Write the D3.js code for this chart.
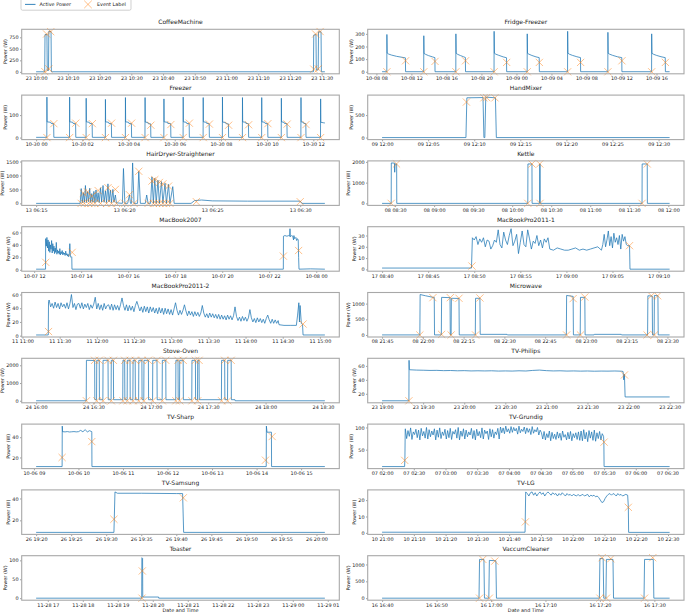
<!DOCTYPE html>
<html><head><meta charset="utf-8">
<script src="https://cdn.jsdelivr.net/npm/d3@7"></script>
<style>html,body{margin:0;padding:0;background:#fff;}svg{display:block;font-family:"DejaVu Sans",sans-serif;}</style>
</head><body><svg id="c" width="685" height="614"></svg>
<script>
// ---------- DATA (times are minutes after each panel's base time) ----------
const coffeeBase = "2014-05-23 10:00";
const coffeeTicks = ["2014-05-23 10:00","2014-05-23 10:10","2014-05-23 10:20","2014-05-23 10:30","2014-05-23 10:40","2014-05-23 10:50","2014-05-23 11:00","2014-05-23 11:10","2014-05-23 11:20","2014-05-23 11:30"];
const coffeeY = [0,250,500,750];
const coffeePower = [[0,2],[2.7,2],[2.8,810],[3.4,815],[3.5,30],[3.9,30],[4.0,880],[4.7,875],[4.8,2],[87.4,2],[87.5,800],[88.2,810],[88.3,40],[88.9,40],[89.0,870],[89.8,870],[89.9,2],[91,2]];
const coffeeEvents = [[2.75,5],[3.3,822],[4.0,65],[4.6,872],[87.5,60],[88.1,822],[88.9,65],[89.5,875]];

const fridgeBase = "2014-10-08 08:39";
const fridgeTicks = ["2014-10-08 08:00","2014-10-08 12:00","2014-10-08 16:00","2014-10-08 20:00","2014-10-09 00:00","2014-10-09 04:00","2014-10-09 08:00","2014-10-09 12:00","2014-10-09 16:00"];
const fridgeY = [0,100,200,300];
const fridgePower = [[0,0.5],
 [32.5,0.5],[33,295],[35,148],[45,140],[65,132],[100,122],[150,112],[160,110],[161,0.5],
 [285.5,0.5],[286,285],[288,145],[298,138],[318,128],[345,118],[362,112],[363,0.5],
 [505.5,0.5],[506,300],[508,146],[518,138],[538,128],[560,118],[571,113],[572,0.5],
 [767.5,0.5],[768,320],[770,147],[780,139],[800,130],[830,118],[853,111],[854,0.5],
 [994.5,0.5],[995,300],[997,146],[1007,139],[1027,129],[1055,118],[1077,112],[1078,0.5],
 [1271.5,0.5],[1272,320],[1274,147],[1284,139],[1304,130],[1335,119],[1360,112],[1361,0.5],
 [1547.5,0.5],[1548,312],[1550,146],[1560,139],[1580,130],[1612,119],[1643,112],[1644,0.5],
 [1847.5,0.5],[1848,300],[1850,146],[1860,139],[1880,130],[1912,119],[1941,112],[1942,0.5],[1971,0.5]];
const fridgeEvents = [[33,0],[161,87],[286,0],[363,82],[506,0],[572,87],[768,0],[854,74],[995,0],[1078,74],[1272,0],[1361,74],[1548,0],[1644,87],[1848,0],[1942,74]];

const freezerBase = "2014-10-30 00:00";
const freezerTicks = ["2014-10-30 00:00","2014-10-30 02:00","2014-10-30 04:00","2014-10-30 06:00","2014-10-30 08:00","2014-10-30 10:00","2014-10-30 12:00"];
const freezerY = [0,100];
const freezerPower = [[0,1],
 [27.7,1],[28,180],[28.5,70],[38,68],[39,63],[45.5,62],[46,1],
 [86.7,1],[87,180],[87.5,70],[95,68],[96,63],[102.5,62],[103,1],
 [129.7,1],[130,175],[130.5,70],[138,68],[139,63],[145.5,62],[146,1],
 [179.7,1],[180,170],[180.5,70],[188,68],[189,63],[195.5,62],[196,1],
 [231.7,1],[232,178],[232.5,70],[240,68],[241,63],[247.5,62],[248,1],
 [282.7,1],[283,178],[283.5,69],[290,67],[291,62],[297.5,61],[298,1],
 [331.7,1],[332,172],[332.5,70],[341,68],[342,63],[349.5,62],[350,1],
 [381.7,1],[382,180],[382.5,70],[390,68],[391,63],[397.5,62],[398,1],
 [433.7,1],[434,178],[434.5,70],[442,68],[443,63],[449.5,62],[450,1],
 [483.7,1],[484,180],[484.5,69],[492,67],[493,62],[499.5,61],[500,1],
 [535.7,1],[536,178],[536.5,70],[544,68],[545,63],[551.5,62],[552,1],
 [585.7,1],[586,178],[586.5,70],[594,68],[595,63],[601.5,62],[602,1],
 [636.7,1],[637,175],[637.5,70],[644,68],[645,63],[651.5,62],[652,1],
 [687.7,1],[688,178],[688.5,70],[694,68],[695,63],[700.5,62],[701,1],
 [738.7,1],[739,172],[739.5,68],[746,66],[750,65]];
const freezerEvents = [[28,0],[46,62],[87,0],[103,64],[130,0],[146,62],[180,0],[196,64],[232,0],[248,64],[283,0],[298,55],[332,0],[350,58],[382,0],[398,64],[434,0],[450,60],[484,0],[500,55],[536,0],[552,57],[586,0],[602,62],[637,0],[652,60],[688,0],[701,58],[739,0]];

const mixerBase = "2014-05-09 12:00";
const mixerTicks = ["2014-05-09 12:00","2014-05-09 12:05","2014-05-09 12:10","2014-05-09 12:15","2014-05-09 12:20","2014-05-09 12:25","2014-05-09 12:30"];
const mixerY = [0,500];
const mixerPower = [[0,0],[9.1,0],[9.2,885],[10.95,890],[11.05,0],[11.15,0],[11.25,900],[12.3,885],[12.4,0],[31.2,0]];
const mixerEvents = [[9.15,790],[11.05,885],[11.35,890],[12.25,885]];

const hairBase = "2014-05-13 06:15";
const hairTicks = ["2014-05-13 06:15","2014-05-13 06:20","2014-05-13 06:25","2014-05-13 06:30"];
const hairY = [0,500,1000,1500];
const hairPower = [[0,0],[2.5,0],
 [2.56,530],[2.62,20],[2.68,380],[2.74,40],[2.80,640],[2.86,30],[2.92,420],[2.98,60],[3.04,540],[3.10,30],[3.16,350],[3.22,50],[3.28,430],[3.34,20],[3.40,480],[3.46,60],[3.52,380],[3.58,30],[3.66,560],[3.72,50],[3.80,640],[3.86,40],[3.94,450],[4.00,30],[4.08,700],[4.14,60],[4.22,480],[4.28,30],[4.36,500],[4.42,40],[4.50,300],[4.56,20],
 [4.90,0],[4.96,1250],[5.04,0],[5.20,0],[5.30,300],[5.36,0],[5.42,0],[5.48,1450],[5.56,0],[5.76,0],[5.83,1150],[5.92,0],[6.20,0],[6.28,300],[6.36,0],[6.50,0],[6.58,950],[6.66,0],[6.74,900],[6.82,0],[6.92,830],[7.00,0],[7.12,780],[7.20,0],[7.32,720],[7.40,0],[7.52,680],[7.60,0],[7.76,600],[7.84,0],
 [8.80,0],[9.0,100],[9.4,120],[10,90],[12,80],[15.0,80],[15.1,0],[16.4,0]];
const hairEvents = [[2.56,0],[2.74,0],[2.98,0],[3.16,0],[3.34,0],[3.66,0],[4.0,0],[4.28,0],[4.56,0],[5.04,0],[5.56,0],[6.36,0],[6.66,0],[6.82,0],[7.0,0],[7.2,0],[7.4,0],[7.6,0],
 [2.68,370],[2.92,410],[3.16,260],[3.52,460],[4.08,560],[4.5,500],[5.3,310],[5.83,1150],[6.58,800],[6.74,850],[7.0,750],[7.2,700],[7.52,620],[9.1,60],[15.0,60]];

const kettleBase = "2014-05-08 08:20";
const kettleTicks = ["2014-05-08 08:30","2014-05-08 09:00","2014-05-08 09:30","2014-05-08 10:00","2014-05-08 10:30","2014-05-08 11:00","2014-05-08 11:30","2014-05-08 12:00"];
const kettleY = [0,1000,2000];
const kettlePower = [[0,0],[7,0],[7.1,1950],[9.5,1940],[9.7,1500],[10,1900],[11.2,1900],[11.3,0],
 [112,0],[112.1,1900],[115.2,1900],[115.3,0],[121,0],[121.1,1900],[121.5,1900],[121.6,0],
 [199.8,0],[199.9,1900],[203.8,1900],[203.9,0],[221,0]];
const kettleEvents = [[7,0],[11.1,1900],[112,0],[115.2,1900],[121.2,1900],[121.4,0],[199.8,0],[203.8,1900]];

const mb07Base = "2014-10-07 12:05";
const mb07Ticks = ["2014-10-07 12:00","2014-10-07 14:00","2014-10-07 16:00","2014-10-07 18:00","2014-10-07 20:00","2014-10-07 22:00","2014-10-08 00:00"];
const mb07Y = [0,20,40,60];
const mb07Noise = [50,38,52,35,48,30,45,28,40,33,47,27,42,30,38,26,35,28,44,25,32,27,30,25,34,24,29,26,31,24,28,25,27,23,30,24,26,22,25,21,24,42,22,20,21];
const mb07Power = [[0,1],[24,1],[24.3,50]].concat(sampled(24.5,1.5,mb07Noise),[[91,20],[91.5,1],[631,1],[631.3,54],[635,55],[640,54],[645,55],[647,54],[648,66],[649,53],[652,55],[655,54],[657,48],[658,55],[660,50],[663,52],[665,47],[667,50],[669,48],[670,20],[671,1],[700,1.5],[737,1]]);
const mb07Events = [[24.5,12],[92,28],[631,22],[670,31]];

const mbp1Base = "2014-05-17 08:40";
const mbp1Ticks = ["2014-05-17 08:40","2014-05-17 08:45","2014-05-17 08:50","2014-05-17 08:55","2014-05-17 09:00","2014-05-17 09:05","2014-05-17 09:10"];
const mbp1Y = [0,10,20,30];
const mbp1Noise = [28,26,29,22,27,24,28,20,26,25,18,21,26,24,35,22,19,33,26,22,30,36,21,25,31,14,24,34,22,20,35,27,18,25,23,30,21,26,19,27,24,28];
const mbp1Flat = [18,17,19,18,17,17,18,19,17,18,17,18,19,20];
const mbp1Noise2 = [17,22,31,20,26,34,21,29,19,32,24,28,22,30,18,31,25,29,22,21];
const mbp1Power = [[0,1.2],[9.7,1.2]].concat(sampled(9.8,0.2,mbp1Noise),sampled(18.2,0.4,mbp1Flat),sampled(23.8,0.15,mbp1Noise2),[[26.85,21],[26.9,0.2],[31.2,0.2]]);
const mbp1Events = [[9.75,3],[26.85,21]];

const mbp2Base = "2014-05-11 11:11";
const mbp2Ticks = ["2014-05-11 11:00","2014-05-11 11:30","2014-05-11 12:00","2014-05-11 12:30","2014-05-11 13:00","2014-05-11 13:30","2014-05-11 14:00","2014-05-11 14:30","2014-05-11 15:00"];
const mbp2Y = [0,20,40,60];
const mbp2Noise = [52,42,47,40,49,41,47,39,48,42, 46,40,48,39,47,60,41,47,38,46, 47,40,48,39,46,41,47,38,45,40, 46,56,39,47,38,45,37,47,39,44,
 45,38,46,37,45,38,44,37,45,55, 44,37,45,36,44,37,43,35,44,50, 43,36,42,34,43,35,42,33,42,35, 41,33,40,32,41,33,40,31,40,32,
 39,31,38,30,39,48,37,30,37,31, 37,45,36,29,36,30,35,28,35,29, 34,28,33,44,33,27,32,26,33,27, 32,26,31,25,31,24,30,24,29,23,
 30,24,29,23,29,42,28,22,27,21, 28,22,27,21,26,38,26,20,25,19, 26,20,25,19,24,18,25,30,23,18, 24,18,23,18,22];
const mbp2Power = [[0,1],[9.8,1],[10,50]].concat(sampled(10.5,1.2,mbp2Noise),[[196,16],[200,15],[205,15],[210,15],[211,30],[212,48],[212.5,20],[213,44],[214,18],[215,16],[215.4,1],[233,1]]);
const mbp2Events = [[10,6],[215.4,17]];

const microBase = "2014-05-08 21:45";
const microTicks = ["2014-05-08 21:45","2014-05-08 22:00","2014-05-08 22:15","2014-05-08 22:30","2014-05-08 22:45","2014-05-08 23:00","2014-05-08 23:15","2014-05-08 23:30"];
const microY = [0,500,1000];
const microPower = [[0,2],[13.9,2],[14,1290],[16,1250],[18.8,1200],[19.2,1200],[19.3,2],
 [21.8,2],[21.9,1200],[25.0,1190],[25.1,2],[25.4,2],[25.5,1170],[28.3,1165],[28.4,2],
 [34.3,2],[34.4,1170],[36.0,1170],[36.1,20],[46,20],[46.1,2],
 [67.8,2],[67.9,1260],[70.3,1230],[70.4,2],[72.9,2],[73,1200],[74.6,1200],[74.7,2],
 [78,2],[78.1,20],[88,20],[88.1,2],
 [97.7,2],[97.8,1250],[99.4,1240],[99.5,2],[100.1,2],[100.2,1260],[101.5,1250],[101.6,2],[105.8,2]];
const microEvents = [[13.9,0],[18.7,1190],[21.9,20],[25.1,1190],[25.4,0],[28.3,1170],[34.4,0],[36.0,1180],[67.9,0],[70.3,1160],[73,0],[74.6,1210],[97.5,0],[99.1,1250],[100.2,0],[101.4,1250]];

const stoveBase = "2014-05-24 16:00";
const stoveTicks = ["2014-05-24 16:00","2014-05-24 16:30","2014-05-24 17:00","2014-05-24 17:30","2014-05-24 18:00","2014-05-24 18:30"];
const stoveY = [0,1000,2000];
const stovePower = [[0,0],[26.2,0],[26.3,2280],[30.6,2270],[30.7,60],[31.6,60],[31.7,2280],[33.0,2280],[33.1,60],[34.9,60],[35.0,2280],[37.6,2280],[37.7,60],
 [39.2,60],[39.3,2280],[40.4,2280],[40.5,60],[45.3,60],[45.4,2280],[46.3,2280],[46.4,60],[47.6,60],[47.7,2280],[49.1,2280],[49.2,60],
 [50.6,60],[50.7,2280],[51.8,2280],[51.9,60],[53.6,60],[53.7,2280],[55.3,2280],[55.4,60],[56.3,60],[56.4,2280],[58.7,2280],[58.8,60],
 [60.9,60],[61,2280],[63.2,2280],[63.3,60],[65.9,60],[66,2280],[67.8,2280],[67.9,60],[73.0,60],[73.1,2280],[74.2,2280],[74.3,60],
 [75.0,60],[75.1,2280],[76.9,2280],[77.0,60],[81.4,60],[81.5,2280],[83.3,2280],[83.4,60],[84.4,60],[84.5,2280],[85.2,2280],[85.3,60],
 [96.9,60],[97,2280],[98.6,2280],[98.7,60],[100.1,60],[100.2,2280],[102,2280],[102.1,60],[104,60],[104.1,0],[151,0]];
const stoveEvents = [[26.3,0],[30.6,2280],[31.7,0],[33.0,2280],[35.0,0],[37.6,2280],[39.3,0],[40.4,2280],[45.4,0],[46.3,2280],[47.7,0],[49.1,2280],[50.7,0],[51.8,2280],[53.7,0],[55.3,2280],[56.4,0],[58.7,2280],[61,0],[63.2,2280],[66,0],[67.8,2280],[73.1,0],[74.2,2280],[75.1,0],[76.9,2280],[81.5,0],[83.3,2280],[84.5,0],[85.2,2280],[97,0],[98.6,2280],[100.2,0],[102,2280]];

const philipsBase = "2014-05-23 19:00";
const philipsTicks = ["2014-05-23 19:00","2014-05-23 19:30","2014-05-23 20:00","2014-05-23 20:30","2014-05-23 21:00","2014-05-23 21:30","2014-05-23 22:00","2014-05-23 22:30"];
const philipsY = [20,40,60];
const philipsLevel = [54.5,54,53.8,53.5,53.6,53.2,53.4,53,53.2,52.8,53,52.8,53,52.6,52.8,52.6,53,52.7,53.5,54,53.2,52.8,53,52.6,52.8,52.5,52.7,52.4,52.6,52.5,52.7,52.4];
const philipsPower = [[0,10],[19.6,10],[19.7,68],[19.9,55]].concat(sampled(20,5,philipsLevel),[[176,52],[176.5,40],[177,48],[177.5,15.5],[210,15.5]]);
const philipsEvents = [[19.6,10],[177,47]];

const sharpBase = "2014-10-06 09:03";
const sharpTicks = ["2014-10-06 09:00","2014-10-06 10:00","2014-10-06 11:00","2014-10-06 12:00","2014-10-06 13:00","2014-10-06 14:00","2014-10-06 15:00"];
const sharpY = [20,40];
const sharpLevel = [45.5,45.3,45.6,45.2,45.4,45.6,45.3,45.5,46.8,45.4,47.5,45.3,46.5,45.5];
const sharpPower = [[0,11],[35,11],[35.2,51],[35.6,45.5]].concat(sampled(36,3,sharpLevel),[[75,45],[75.2,11],[310,11],[310.2,51],[311,45],[317,45],[317.2,11],[389,11]]);
const sharpEvents = [[35,20],[75,35.7],[309,17.3],[318,40.7]];

const grundigBase = "2014-05-07 02:00";
const grundigTicks = ["2014-05-07 02:00","2014-05-07 02:30","2014-05-07 03:00","2014-05-07 03:30","2014-05-07 04:00","2014-05-07 04:30","2014-05-07 05:00","2014-05-07 05:30","2014-05-07 06:00","2014-05-07 06:30"];
const grundigY = [50,100];
const grundigNoise = [97,75,93,80,99,73,90,84,96,77,94,72,98,81,91,76,100,74,95,79,92,83,97,72,94,78,99,75,90,82,96,74,93,77,98,73,91,85,95,76,100,72,92,80,97,74,94,79,90,83,98,75,93,72,96,81,91,77,99,74,94,86,92,73,97,79,95,76,90,84,98,74,
 101,88,99,86,103,90,97,87,102,89,100,92,98,85,103,88,96,91,101,86,99,89,97,84,102,87,95,90,100,83,94,
 88,74,91,72,86,77,92,70,89,75,85,73,90,76,87,71,92,78,84,72,89,74,91,70,86,77,88,73,90,71,
 92,70,95,74,89,68,93,76,90,71,94,69,88,75,91,72,86,80];
const grundigPower = [[0,12],[21.3,12],[21.6,30],[21.9,95]].concat(sampled(22,1.25,grundigNoise),[[209.8,66],[210,12],[272,12]]);
const grundigEvents = [[21.4,26],[210,67]];

const samsungBase = "2014-05-26 19:20";
const samsungTicks = ["2014-05-26 19:20","2014-05-26 19:25","2014-05-26 19:30","2014-05-26 19:35","2014-05-26 19:40","2014-05-26 19:45","2014-05-26 19:50","2014-05-26 19:55","2014-05-26 20:00"];
const samsungY = [20,40];
const samsungPower = [[0,9],[11.1,9],[11.25,46],[11.6,44.8],[15,44.8],[20,44.5],[20.9,44.5],[21.05,9],[41.2,9]];
const samsungEvents = [[11.1,21],[21,40.6]];

const lgBase = "2014-05-10 21:00";
const lgTicks = ["2014-05-10 21:00","2014-05-10 21:10","2014-05-10 21:20","2014-05-10 21:30","2014-05-10 21:40","2014-05-10 21:50","2014-05-10 22:00","2014-05-10 22:10","2014-05-10 22:20","2014-05-10 22:30"];
const lgY = [0,10,20];
const lgLevel = [25,24,22.5,24.5,25,23,24.5,22.5,24,25,23.5,24.5,22.5,24,25,24,23,24.5,23.5,24,22.5,24,23,24.5,23.5,22.5,24,23,23.5,22.5,23.5,23,22.5,23.5,22.5,23,23.5,22.5,23,23.5,22,23,22.5,23,22,22.5,21.5,20,
 18.5,19,21,22.5,23.5,24,23,24,23.5,22.5,24,23,23.5,22.5,23,23.5];
const lgPower = [[0,0.4],[45,0.4]].concat(sampled(45.2,0.5,lgLevel),[[77.3,23],[77.5,16],[77.6,0.3],[90.5,0.3]]);
const lgEvents = [[45.1,6.7],[77.5,15.6]];

const toasterBase = "2014-11-28 16:40";
const toasterTicks = ["2014-11-28 17:00","2014-11-28 18:00","2014-11-28 19:00","2014-11-28 20:00","2014-11-28 21:00","2014-11-28 22:00","2014-11-28 23:00","2014-11-29 00:00","2014-11-29 01:00"];
const toasterY = [0,50,100];
const toasterPower = [[0,0],[181,0],[181.3,107],[182.5,105],[182.8,3],[210,3],[210.2,0],[495,0]];
const toasterEvents = [[181.5,0],[182,72]];

const vacBase = "2014-05-16 16:40";
const vacTicks = ["2014-05-16 16:40","2014-05-16 16:50","2014-05-16 17:00","2014-05-16 17:10","2014-05-16 17:20","2014-05-16 17:30"];
const vacY = [0,500,1000];
const vacPower = [[0,0],[17.8,0],[17.9,1150],[18.7,1150],[18.8,0],[19.6,0],[19.7,1120],[20.9,1110],[21.0,0],
 [39.9,0],[40.0,1180],[40.6,1170],[40.7,0],[41.1,0],[41.2,1150],[42.4,1150],[42.5,0],
 [48.1,0],[48.2,1150],[49.8,1150],[49.9,0],[52.8,0]];
const vacEvents = [[17.9,0],[18.5,1150],[19.7,0],[20.7,1100],[40.0,0],[40.4,1200],[41.2,0],[42.0,1170],[48.2,0],[49.7,1200]];

function sampled(t0, step, vals){ return vals.map((v,i)=>[t0+i*step, v]); }

// ---------- DRAW ----------
const HM = "%d %H:%M", MDH = "%m-%d %H";
const panels = [
 {title:"CoffeeMachine", base:coffeeBase, power:coffeePower, events:coffeeEvents, ticks:coffeeTicks, fmt:HM, yt:coffeeY},
 {title:"Fridge-Freezer", base:fridgeBase, power:fridgePower, events:fridgeEvents, ticks:fridgeTicks, fmt:MDH, yt:fridgeY},
 {title:"Freezer", base:freezerBase, power:freezerPower, events:freezerEvents, ticks:freezerTicks, fmt:MDH, yt:freezerY},
 {title:"HandMixer", base:mixerBase, power:mixerPower, events:mixerEvents, ticks:mixerTicks, fmt:HM, yt:mixerY},
 {title:"HairDryer-Straightener", base:hairBase, power:hairPower, events:hairEvents, ticks:hairTicks, fmt:HM, yt:hairY},
 {title:"Kettle", base:kettleBase, power:kettlePower, events:kettleEvents, ticks:kettleTicks, fmt:HM, yt:kettleY},
 {title:"MacBook2007", base:mb07Base, power:mb07Power, events:mb07Events, ticks:mb07Ticks, fmt:MDH, yt:mb07Y},
 {title:"MacBookPro2011-1", base:mbp1Base, power:mbp1Power, events:mbp1Events, ticks:mbp1Ticks, fmt:HM, yt:mbp1Y},
 {title:"MacBookPro2011-2", base:mbp2Base, power:mbp2Power, events:mbp2Events, ticks:mbp2Ticks, fmt:HM, yt:mbp2Y},
 {title:"Microwave", base:microBase, power:microPower, events:microEvents, ticks:microTicks, fmt:HM, yt:microY},
 {title:"Stove-Oven", base:stoveBase, power:stovePower, events:stoveEvents, ticks:stoveTicks, fmt:HM, yt:stoveY},
 {title:"TV-Philips", base:philipsBase, power:philipsPower, events:philipsEvents, ticks:philipsTicks, fmt:HM, yt:philipsY},
 {title:"TV-Sharp", base:sharpBase, power:sharpPower, events:sharpEvents, ticks:sharpTicks, fmt:MDH, yt:sharpY},
 {title:"TV-Grundig", base:grundigBase, power:grundigPower, events:grundigEvents, ticks:grundigTicks, fmt:HM, yt:grundigY},
 {title:"TV-Samsung", base:samsungBase, power:samsungPower, events:samsungEvents, ticks:samsungTicks, fmt:HM, yt:samsungY},
 {title:"TV-LG", base:lgBase, power:lgPower, events:lgEvents, ticks:lgTicks, fmt:HM, yt:lgY},
 {title:"Toaster", base:toasterBase, power:toasterPower, events:toasterEvents, ticks:toasterTicks, fmt:MDH, yt:toasterY},
 {title:"VaccumCleaner", base:vacBase, power:vacPower, events:vacEvents, ticks:vacTicks, fmt:HM, yt:vacY}
];

const parse = d3.timeParse("%Y-%m-%d %H:%M");
const svg = d3.select("#c");
const BLUE = "#1f77b4", ORANGE = "#ff7f0e";
const colX = [21.7, 367.7], colW = [317.6, 316.3], axH = 44.5, rowPitch = 65.8, top0 = 29.3;
const TICK_FS = 4.9, TITLE_FS = 6.0;
const xMark = s => `M${-s},${-s}L${s},${s}M${-s},${s}L${s},${-s}`;

panels.forEach((p, i) => {
  const col = i % 2, row = Math.floor(i / 2);
  const x0 = colX[col], w = colW[col], y0 = top0 + row * rowPitch;
  const b = parse(p.base).getTime();
  const toD = m => new Date(b + m * 60000);
  const all = p.power.concat(p.events);
  const tExt = d3.extent(all, d => d[0]), vExt = d3.extent(all, d => d[1]);
  const tp = (tExt[1] - tExt[0]) * 0.05, vp = (vExt[1] - vExt[0]) * 0.05;
  const x = d3.scaleTime().domain([toD(tExt[0] - tp), toD(tExt[1] + tp)]).range([x0, x0 + w]);
  const y = d3.scaleLinear().domain([vExt[0] - vp, vExt[1] + vp]).range([y0 + axH, y0]);
  const g = svg.append("g");

  g.append("path").datum(p.power)
    .attr("fill", "none").attr("stroke", BLUE).attr("stroke-width", 0.75).attr("stroke-linejoin", "round")
    .attr("d", d3.line().x(d => x(toD(d[0]))).y(d => y(d[1])));
  g.selectAll("path.ev").data(p.events).join("path").attr("class", "ev")
    .attr("transform", d => `translate(${x(toD(d[0]))},${y(d[1])})`)
    .attr("d", xMark(3.6)).attr("stroke", ORANGE).attr("stroke-width", 0.9).attr("stroke-opacity", 0.55).attr("fill", "none");

  const xa = g.append("g").attr("transform", `translate(0,${y0 + axH})`)
    .call(d3.axisBottom(x).tickValues(p.ticks.map(parse)).tickFormat(d3.timeFormat(p.fmt)).tickSize(1.7).tickPadding(1.3));
  const ya = g.append("g").attr("transform", `translate(${x0},0)`)
    .call(d3.axisLeft(y).tickValues(p.yt).tickFormat(d3.format("d")).tickSize(1.7).tickPadding(1.4));
  [xa, ya].forEach(a => {
    a.select(".domain").remove();
    a.selectAll("text").attr("font-size", TICK_FS).attr("fill", "#222").attr("font-family", "DejaVu Sans");
    a.selectAll("line").attr("stroke", "#444").attr("stroke-width", 0.5);
  });
  g.append("rect").attr("x", x0).attr("y", y0).attr("width", w).attr("height", axH)
    .attr("fill", "none").attr("stroke", "#a8a8a8").attr("stroke-width", 1.1);
  g.append("text").attr("x", x0 + w / 2).attr("y", y0 - 5.0).attr("text-anchor", "middle")
    .attr("font-size", TITLE_FS).attr("fill", "#222").text(p.title);
  // y label placed left of the widest tick label (as matplotlib does)
  let maxW = 0;
  ya.selectAll("text").each(function(){ maxW = Math.max(maxW, this.getComputedTextLength()); });
  const lx = Math.max(x0 - 3.1 - maxW - 2.6, 4.2);
  g.append("text").attr("transform", `translate(${lx},${y0 + axH / 2}) rotate(-90)`)
    .attr("text-anchor", "middle").attr("font-size", TICK_FS).attr("fill", "#222").text("Power (W)");
  if (row === 8) {
    g.append("text").attr("x", x0 + w / 2).attr("y", y0 + axH + 12.1).attr("text-anchor", "middle")
      .attr("font-size", TICK_FS).attr("fill", "#222").text("Date and Time");
  }
});

// legend
const lg = svg.append("g");
lg.append("rect").attr("x", 21).attr("y", -3).attr("width", 110).attr("height", 13.2).attr("rx", 1.5)
  .attr("fill", "#fff").attr("stroke", "#bbb").attr("stroke-width", 0.7);
lg.append("line").attr("x1", 25).attr("x2", 35.5).attr("y1", 4.4).attr("y2", 4.4).attr("stroke", BLUE).attr("stroke-width", 0.9);
lg.append("text").attr("x", 39.5).attr("y", 6.2).attr("font-size", TICK_FS).attr("fill", "#222").text("Active Power");
lg.append("path").attr("transform", "translate(88,4.4)").attr("d", xMark(3.8)).attr("stroke", ORANGE).attr("stroke-width", 0.9).attr("stroke-opacity", 0.55);
lg.append("text").attr("x", 97).attr("y", 6.2).attr("font-size", TICK_FS).attr("fill", "#222").text("Event Label");
</script></body></html>
